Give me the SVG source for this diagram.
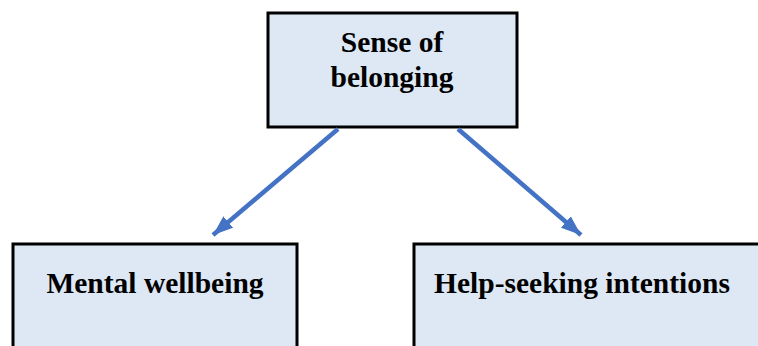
<svg xmlns="http://www.w3.org/2000/svg" width="758" height="346" viewBox="0 0 758 346">
<style>
.box{fill:#DDE8F4;stroke:#000;stroke-width:3}
.lbl{font-family:"Liberation Serif","Times New Roman",serif;font-weight:bold;font-size:29.5px;fill:#000}
.conn{stroke:#4472C4;stroke-width:4.5;fill:none}
</style>
<defs>
<marker id="ah" markerUnits="userSpaceOnUse" markerWidth="22" markerHeight="22" viewBox="0 0 22 22" refX="20" refY="11" orient="auto">
<path d="M0,3.5 L20,11 L0,18.5 Z" fill="#4472C4"/>
</marker>
</defs>
<rect width="758" height="346" fill="#fff"/>
<g id="node-belonging">
<rect class="box" x="268" y="13" width="249" height="114"/>
<text class="lbl" x="392" y="52" text-anchor="middle">Sense of</text>
<text class="lbl" x="392" y="87" text-anchor="middle">belonging</text>
</g>
<g id="node-wellbeing">
<rect class="box" x="13" y="244" width="284" height="120"/>
<text class="lbl" x="155" y="293" text-anchor="middle">Mental wellbeing</text>
</g>
<g id="node-helpseeking">
<rect class="box" x="414" y="244" width="360" height="120"/>
<text class="lbl" x="582" y="293" text-anchor="middle">Help-seeking intentions</text>
</g>
<g id="connectors">
<line class="conn" x1="338" y1="129" x2="213" y2="235" marker-end="url(#ah)"/>
<line class="conn" x1="458" y1="129" x2="581" y2="235" marker-end="url(#ah)"/>
</g>
</svg>
